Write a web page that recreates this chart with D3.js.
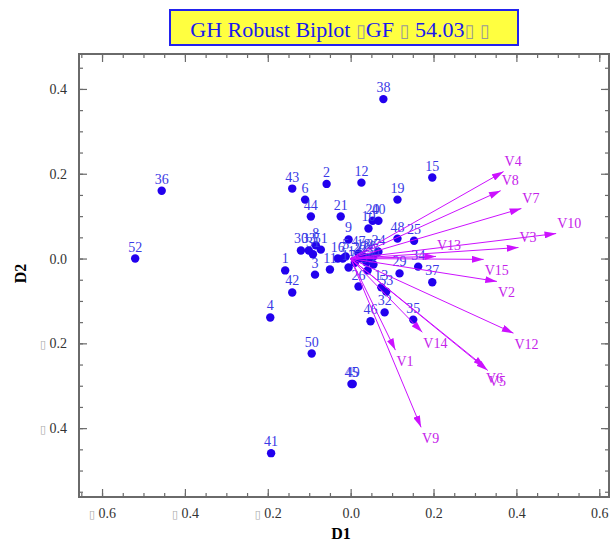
<!DOCTYPE html>
<html>
<head>
<meta charset="utf-8">
<script src="https://cdn.jsdelivr.net/npm/d3@7"></script>
<style>
  body { margin: 0; background: #fff; }
  svg text { font-family: "Liberation Serif", "DejaVu Serif", serif; }
</style>
</head>
<body>
<div id="chart"></div>
<script>
// row scores (D1, D2)
var pointLabels = ["1","2","3","4","5","6","7","8","9","10","11","12","13","14","15","16","17","18",
  "19","20","21","22","23","24","25","26","27","28","29","30","31","32","33","34","35","36",
  "37","38","39","40","41","42","43","44","45","46","47","48","49","50","51","52","53","54"];
var pointD1 = [-0.158,-0.058,-0.086,-0.194,-0.012,-0.110,-0.019,-0.084,-0.005,0.043,-0.050,0.026,0.074,0.010,
  0.197,-0.031,-0.005,0.031,0.113,0.053,-0.024,0.022,0.038,0.067,0.153,0.019,0.055,0.045,0.118,-0.120,
  -0.091,0.082,-0.101,0.163,0.151,-0.456,0.197,0.079,0.041,0.067,-0.192,-0.141,-0.141,-0.096,0.002,
  0.048,0.019,0.113,0.005,-0.094,-0.072,-0.520,0.086,0.055];
var pointD2 = [-0.028,0.176,-0.038,-0.139,0.005,0.139,0.000,0.031,0.045,0.071,-0.026,0.179,-0.068,-0.010,
  0.191,0.000,-0.021,0.005,0.139,0.089,0.099,0.000,-0.009,0.016,0.042,-0.066,0.005,0.002,-0.035,0.019,
  0.010,-0.127,0.019,-0.019,-0.144,0.160,-0.056,0.376,-0.028,0.089,-0.459,-0.080,0.165,0.099,-0.296,
  -0.148,0.012,0.047,-0.296,-0.224,0.021,0.000,-0.078,-0.014];

// column markers (variables)
var varLabels = ["V1","V2","V3","V4","V5","V6","V7","V8","V9","V10","V12","V13","V14","V15"];
var varD1 = [0.108,0.353,0.405,0.369,0.331,0.324,0.412,0.362,0.170,0.496,0.393,0.206,0.173,0.321];
var varD2 = [-0.216,-0.054,0.026,0.205,-0.264,-0.256,0.118,0.160,-0.398,0.059,-0.176,0.005,-0.174,-0.002];

var majorTicks = [-0.6,-0.4,-0.2,0.0,0.2,0.4,0.6];
var yMajorTicks = [-0.4,-0.2,0.0,0.2,0.4];
var titleParts = ["GH Robust Biplot ", "\u25AF", "GF ", "\u25AF", "    54.03", "\u25AF", "  ", "\u25AF"];

var width = 611, height = 545;
var margin = { top: 54, right: 2, bottom: 48, left: 79 };

var svg = d3.select("#chart").append("svg")
  .attr("width", width)
  .attr("height", height);

var x = d3.scaleLinear().domain([-0.6556, 0.6235]).range([margin.left, width - margin.right]);
var y = d3.scaleLinear().domain([-0.5624, 0.4824]).range([height - margin.bottom, margin.top]);

var frameColor = "#6a6a6a";
var x0 = margin.left, x1 = width - margin.right, y0 = height - margin.bottom, y1 = margin.top;

// minor ticks every 0.05
var minor = d3.range(-0.65, 0.651, 0.05).map(function (d) { return Math.round(d * 100) / 100; });
var xMinor = minor.filter(function (d) { return d >= x.domain()[0] && d <= x.domain()[1]; });
var yMinor = minor.filter(function (d) { return d >= y.domain()[0] && d <= y.domain()[1]; });

function tickFmt(d) {
  return d3.format(".1f")(Math.abs(d));
}

function styleAxis(g) {
  g.select(".domain").remove();
  g.selectAll(".tick line").attr("stroke", frameColor).attr("stroke-width", 1.2);
  g.selectAll(".tick text").attr("fill", "#333").style("font-size", "14px");
}

// bottom
svg.append("g").attr("transform", "translate(0," + y0 + ")")
  .call(d3.axisBottom(x).tickValues(xMinor).tickSize(-4).tickFormat(""))
  .call(styleAxis);
var bx = svg.append("g").attr("transform", "translate(0," + y0 + ")")
  .call(d3.axisBottom(x).tickValues(majorTicks).tickSize(-8).tickPadding(17).tickFormat(tickFmt))
  .call(styleAxis);
// top
svg.append("g").attr("transform", "translate(0," + y1 + ")")
  .call(d3.axisTop(x).tickValues(xMinor).tickSize(-4).tickFormat(""))
  .call(styleAxis);
svg.append("g").attr("transform", "translate(0," + y1 + ")")
  .call(d3.axisTop(x).tickValues(majorTicks).tickSize(-8).tickFormat(""))
  .call(styleAxis);
// left
svg.append("g").attr("transform", "translate(" + x0 + ",0)")
  .call(d3.axisLeft(y).tickValues(yMinor).tickSize(-4).tickFormat(""))
  .call(styleAxis);
var ly = svg.append("g").attr("transform", "translate(" + x0 + ",0)")
  .call(d3.axisLeft(y).tickValues(yMajorTicks).tickSize(-8).tickPadding(12).tickFormat(tickFmt))
  .call(styleAxis);
// right
svg.append("g").attr("transform", "translate(" + x1 + ",0)")
  .call(d3.axisRight(y).tickValues(yMinor).tickSize(-4).tickFormat(""))
  .call(styleAxis);
svg.append("g").attr("transform", "translate(" + x1 + ",0)")
  .call(d3.axisRight(y).tickValues(yMajorTicks).tickSize(-8).tickFormat(""))
  .call(styleAxis);

// missing minus glyph shows as a thin box in the original
[bx, ly].forEach(function (g) {
  g.selectAll(".tick").filter(function (d) { return d < 0; }).select("text")
    .each(function () {
      var t = d3.select(this), s = t.text();
      t.text(null);
      t.append("tspan").attr("fill", "#aaa").style("font-family", "DejaVu Sans")
        .style("font-size", "11px").text("\u25AF");
      t.append("tspan").text(" " + s);
    });
});
bx.selectAll(".tick text").attr("dy", "0.3em");

// frame
svg.append("rect")
  .attr("x", x0).attr("y", y1)
  .attr("width", x1 - x0).attr("height", y0 - y1)
  .attr("fill", "none").attr("stroke", frameColor).attr("stroke-width", 2);

// axis titles
svg.append("text").attr("x", (x0 + x1) / 2 - 3).attr("y", 539)
  .attr("text-anchor", "middle").style("font-size", "16px").style("font-weight", "bold")
  .text("D1");
svg.append("text").attr("transform", "translate(26," + ((y0 + y1) / 2 - 2) + ") rotate(-90)")
  .attr("text-anchor", "middle").style("font-size", "16px").style("font-weight", "bold")
  .text("D2");

// variable vectors
var vecColor = "#cc11ff";
var defs = svg.append("defs");
defs.append("marker")
  .attr("id", "arrow")
  .attr("viewBox", "0 0 10 6")
  .attr("refX", 10).attr("refY", 3)
  .attr("markerWidth", 12).attr("markerHeight", 7)
  .attr("markerUnits", "userSpaceOnUse")
  .attr("orient", "auto")
  .append("path").attr("d", "M0,0L10,3L0,6Z").attr("fill", vecColor);

var vars = varLabels.map(function (l, i) { return { label: l, d1: varD1[i], d2: varD2[i] }; });
var pts = pointLabels.map(function (l, i) { return { label: l, d1: pointD1[i], d2: pointD2[i] }; });

// points
svg.append("g").selectAll("circle")
  .data(pts).enter().append("circle")
  .attr("cx", function (d) { return x(d.d1); })
  .attr("cy", function (d) { return y(d.d2); })
  .attr("r", 4.2)
  .attr("fill", "#2200ee");

svg.append("g").selectAll("text")
  .data(pts).enter().append("text")
  .attr("x", function (d) { return x(d.d1); })
  .attr("y", function (d) { return y(d.d2) - 7; })
  .attr("text-anchor", "middle")
  .attr("fill", "#3a3ae6")
  .style("font-size", "14px")
  .text(function (d) { return d.label; });

svg.append("g").selectAll("line")
  .data(vars).enter().append("line")
  .attr("x1", x(0)).attr("y1", y(0))
  .attr("x2", function (d) { return x(d.d1); })
  .attr("y2", function (d) { return y(d.d2); })
  .attr("stroke", vecColor).attr("stroke-width", 1)
  .attr("marker-end", "url(#arrow)");

svg.append("g").selectAll("text")
  .data(vars).enter().append("text")
  .attr("x", function (d) { return x(d.d1) + 1; })
  .attr("y", function (d) { return d.d2 > 0 ? y(d.d2) - 6 : y(d.d2) + 16; })
  .attr("fill", "#c522ea")
  .style("font-size", "14px")
  .text(function (d) { return d.label; });

// title box
var tg = svg.append("g");
tg.append("rect").attr("x", 170).attr("y", 10).attr("width", 348).attr("height", 35)
  .attr("fill", "#ffff40").attr("stroke", "#2222ee").attr("stroke-width", 2);
var tt = tg.append("text").attr("x", 340).attr("y", 37)
  .attr("text-anchor", "middle").attr("fill", "#1a1aee")
  .style("font-size", "22px");
titleParts.forEach(function (p) {
  var s = tt.append("tspan").text(p);
  if (p === "\u25AF") s.attr("fill", "#999").style("font-family", "DejaVu Sans").style("font-size", "18px");
});
</script>
</body>
</html>
